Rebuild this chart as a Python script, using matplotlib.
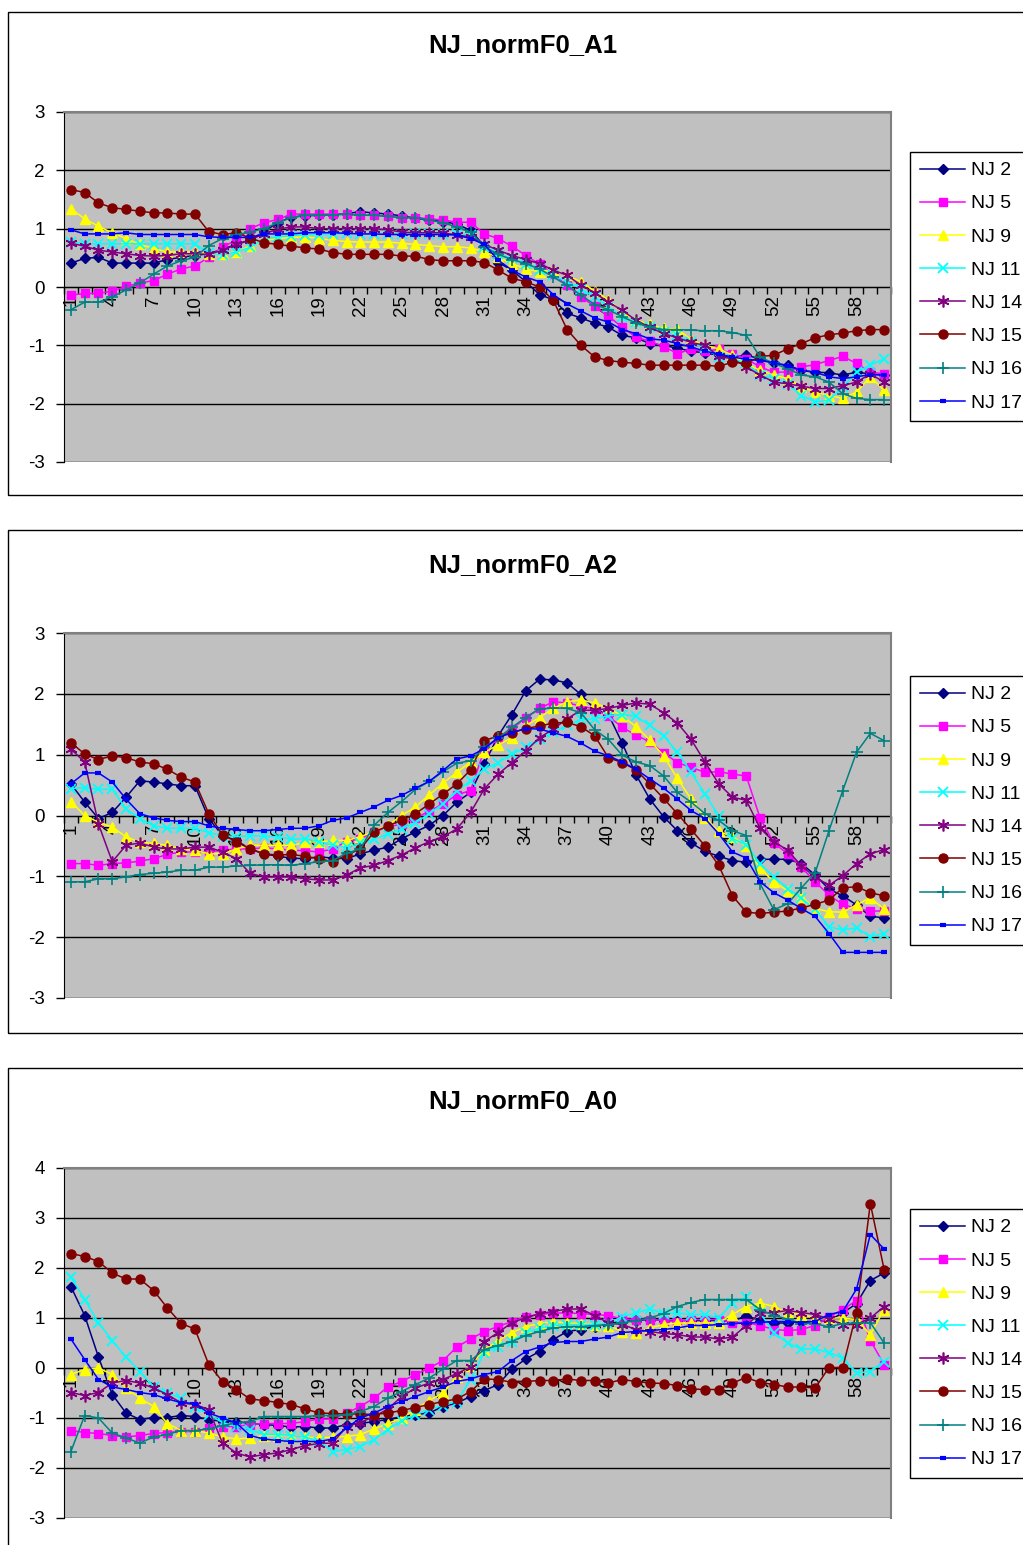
import matplotlib
matplotlib.use("Agg")
import matplotlib.pyplot as plt
from matplotlib.patches import Rectangle
from matplotlib.lines import Line2D
import numpy as np

plt.rcParams['font.family'] = ['Liberation Sans', 'DejaVu Sans']

points = list(range(1, 61))
tick_labels = [str(i) for i in range(1, 61, 3)]
series_names = ["NJ 2", "NJ 5", "NJ 9", "NJ 11", "NJ 14", "NJ 15", "NJ 16", "NJ 17"]

# ---------------- NJ_normF0_A1 ----------------
a1_nj2 = [0.41, 0.49, 0.51, 0.41, 0.41, 0.41, 0.41, 0.47, 0.51, 0.54,
          0.57, 0.65, 0.73, 0.80, 0.95, 1.10, 1.20, 1.22, 1.23, 1.24,
          1.26, 1.29, 1.27, 1.25, 1.22, 1.18, 1.15, 1.12, 1.08, 0.97,
          0.70, 0.42, 0.29, 0.09, -0.13, -0.22, -0.45, -0.53, -0.62, -0.69,
          -0.83, -0.87, -0.97, -1.00, -1.05, -1.10, -1.13, -1.17, -1.20, -1.17,
          -1.23, -1.31, -1.34, -1.43, -1.46, -1.47, -1.51, -1.46, -1.49, -1.51]
a1_nj5 = [-0.14, -0.11, -0.11, -0.07, 0.01, 0.07, 0.11, 0.22, 0.31, 0.36,
          0.51, 0.69, 0.80, 1.00, 1.10, 1.16, 1.25, 1.25, 1.25, 1.25,
          1.25, 1.23, 1.23, 1.21, 1.19, 1.19, 1.17, 1.15, 1.11, 1.11,
          0.91, 0.83, 0.70, 0.54, 0.39, 0.23, 0.03, -0.17, -0.33, -0.50,
          -0.69, -0.86, -0.93, -1.02, -1.14, -1.07, -1.10, -1.07, -1.14, -1.23,
          -1.37, -1.46, -1.46, -1.37, -1.33, -1.26, -1.19, -1.31, -1.46, -1.49]
a1_nj9 = [1.34, 1.17, 1.04, 0.93, 0.83, 0.73, 0.66, 0.60, 0.60, 0.60,
          0.56, 0.57, 0.60, 0.70, 0.80, 0.83, 0.85, 0.86, 0.83, 0.80,
          0.78, 0.77, 0.77, 0.77, 0.75, 0.73, 0.71, 0.69, 0.69, 0.67,
          0.60, 0.51, 0.40, 0.31, 0.26, 0.30, 0.20, 0.09, -0.07, -0.22,
          -0.43, -0.57, -0.64, -0.71, -0.72, -0.90, -1.00, -1.06, -1.17, -1.31,
          -1.43, -1.51, -1.57, -1.71, -1.80, -1.86, -1.91, -1.80, -1.54, -1.77]
a1_nj11 = [0.78, 0.74, 0.74, 0.74, 0.74, 0.74, 0.74, 0.74, 0.74, 0.74,
           0.58, 0.55, 0.60, 0.68, 0.82, 0.86, 0.88, 0.90, 0.90, 0.91,
           0.92, 0.91, 0.91, 0.91, 0.91, 0.91, 0.91, 0.91, 0.91, 0.90,
           0.69, 0.57, 0.49, 0.40, 0.29, 0.20, 0.09, -0.03, -0.17, -0.34,
           -0.51, -0.60, -0.69, -0.77, -0.83, -0.95, -1.05, -1.20, -1.23, -1.31,
           -1.51, -1.57, -1.66, -1.86, -1.97, -1.94, -1.71, -1.46, -1.34, -1.23]
a1_nj14 = [0.75, 0.70, 0.63, 0.60, 0.57, 0.54, 0.53, 0.54, 0.57, 0.57,
           0.56, 0.63, 0.73, 0.81, 0.91, 0.99, 1.03, 1.03, 1.00, 1.00,
           1.00, 1.00, 1.00, 0.98, 0.94, 0.93, 0.93, 0.93, 0.89, 0.86,
           0.73, 0.63, 0.54, 0.47, 0.40, 0.29, 0.20, 0.03, -0.10, -0.26,
           -0.40, -0.57, -0.69, -0.80, -0.87, -0.95, -1.00, -1.19, -1.23, -1.37,
           -1.51, -1.63, -1.66, -1.70, -1.74, -1.74, -1.69, -1.63, -1.49, -1.63]
a1_nj15 = [1.67, 1.62, 1.44, 1.36, 1.33, 1.30, 1.27, 1.27, 1.25, 1.25,
           0.95, 0.90, 0.93, 0.84, 0.76, 0.73, 0.70, 0.67, 0.65, 0.59,
           0.56, 0.56, 0.56, 0.56, 0.53, 0.53, 0.47, 0.45, 0.45, 0.45,
           0.42, 0.29, 0.15, 0.09, 0.00, -0.23, -0.73, -1.00, -1.20, -1.26,
           -1.29, -1.31, -1.34, -1.34, -1.34, -1.34, -1.34, -1.36, -1.29, -1.31,
           -1.19, -1.17, -1.06, -0.97, -0.87, -0.82, -0.79, -0.75, -0.73, -0.73]
a1_nj16 = [-0.39, -0.26, -0.26, -0.17, -0.05, 0.07, 0.22, 0.36, 0.45, 0.51,
           0.71, 0.83, 0.90, 0.94, 1.00, 1.10, 1.19, 1.23, 1.23, 1.23,
           1.25, 1.23, 1.23, 1.21, 1.19, 1.19, 1.15, 1.10, 1.03, 0.94,
           0.69, 0.56, 0.47, 0.40, 0.31, 0.17, 0.03, -0.14, -0.30, -0.39,
           -0.51, -0.62, -0.69, -0.73, -0.73, -0.74, -0.75, -0.75, -0.78, -0.83,
           -1.20, -1.31, -1.40, -1.51, -1.54, -1.63, -1.83, -1.91, -1.93, -1.93]
a1_nj17 = [0.98, 0.91, 0.91, 0.91, 0.93, 0.90, 0.90, 0.90, 0.90, 0.90,
           0.86, 0.85, 0.85, 0.85, 0.91, 0.91, 0.91, 0.93, 0.93, 0.93,
           0.92, 0.91, 0.91, 0.90, 0.90, 0.90, 0.90, 0.90, 0.89, 0.83,
           0.73, 0.46, 0.29, 0.17, 0.09, -0.13, -0.29, -0.41, -0.53, -0.60,
           -0.73, -0.80, -0.89, -0.91, -0.97, -1.03, -1.10, -1.15, -1.20, -1.24,
           -1.26, -1.30, -1.35, -1.43, -1.46, -1.54, -1.57, -1.54, -1.50, -1.51]

# ---------------- NJ_normF0_A2 ----------------
a2_nj2 = [0.52, 0.22, -0.05, 0.05, 0.30, 0.57, 0.55, 0.52, 0.49, 0.49,
          -0.05, -0.33, -0.41, -0.55, -0.63, -0.67, -0.70, -0.71, -0.68, -0.70,
          -0.71, -0.63, -0.57, -0.52, -0.38, -0.27, -0.16, 0.00, 0.22, 0.38,
          0.85, 1.31, 1.66, 2.05, 2.24, 2.23, 2.18, 1.99, 1.75, 1.66,
          1.19, 0.67, 0.27, -0.02, -0.25, -0.45, -0.59, -0.67, -0.74, -0.77,
          -0.72, -0.72, -0.72, -0.79, -0.98, -1.21, -1.32, -1.47, -1.66, -1.68]
a2_nj5 = [-0.79, -0.79, -0.82, -0.79, -0.78, -0.75, -0.71, -0.64, -0.60, -0.60,
          -0.60, -0.57, -0.55, -0.55, -0.53, -0.55, -0.57, -0.58, -0.60, -0.55,
          -0.43, -0.38, -0.27, -0.19, -0.14, -0.04, 0.07, 0.19, 0.34, 0.41,
          1.09, 1.28, 1.42, 1.61, 1.76, 1.87, 1.85, 1.80, 1.75, 1.63,
          1.45, 1.32, 1.21, 1.03, 0.87, 0.79, 0.71, 0.72, 0.68, 0.65,
          -0.04, -0.45, -0.63, -0.85, -1.09, -1.31, -1.46, -1.53, -1.57, -1.57]
a2_nj9 = [0.23, 0.00, -0.11, -0.19, -0.35, -0.44, -0.46, -0.49, -0.55, -0.57,
          -0.63, -0.63, -0.55, -0.49, -0.49, -0.49, -0.49, -0.44, -0.43, -0.41,
          -0.41, -0.35, -0.26, -0.16, 0.00, 0.14, 0.34, 0.53, 0.71, 0.88,
          1.04, 1.16, 1.28, 1.48, 1.61, 1.76, 1.87, 1.90, 1.85, 1.76,
          1.64, 1.46, 1.24, 0.98, 0.61, 0.27, -0.04, -0.26, -0.35, -0.50,
          -0.87, -1.09, -1.24, -1.34, -1.53, -1.58, -1.59, -1.47, -1.35, -1.54]
a2_nj11 = [0.44, 0.46, 0.43, 0.43, 0.11, -0.05, -0.17, -0.21, -0.21, -0.21,
           -0.28, -0.33, -0.35, -0.33, -0.34, -0.35, -0.39, -0.38, -0.43, -0.49,
           -0.52, -0.46, -0.39, -0.30, -0.22, -0.12, 0.03, 0.19, 0.41, 0.57,
           0.76, 0.87, 1.01, 1.12, 1.25, 1.37, 1.48, 1.58, 1.59, 1.64,
           1.66, 1.63, 1.48, 1.31, 1.04, 0.71, 0.35, 0.00, -0.38, -0.48,
           -0.79, -1.01, -1.20, -1.36, -1.54, -1.83, -1.88, -1.85, -1.99, -1.94]
a2_nj14 = [1.09, 0.88, -0.14, -0.76, -0.49, -0.45, -0.52, -0.55, -0.55, -0.52,
           -0.52, -0.60, -0.71, -0.95, -1.01, -1.01, -1.01, -1.04, -1.06, -1.06,
           -0.98, -0.86, -0.82, -0.74, -0.65, -0.53, -0.43, -0.35, -0.22, 0.05,
           0.44, 0.68, 0.87, 1.06, 1.28, 1.42, 1.59, 1.73, 1.73, 1.76,
           1.81, 1.85, 1.83, 1.69, 1.52, 1.25, 0.88, 0.52, 0.30, 0.25,
           -0.21, -0.43, -0.57, -0.83, -1.01, -1.15, -0.99, -0.79, -0.63, -0.56]
a2_nj15 = [1.20, 1.01, 0.92, 0.98, 0.95, 0.88, 0.85, 0.76, 0.63, 0.55,
           0.03, -0.32, -0.43, -0.55, -0.63, -0.65, -0.64, -0.67, -0.71, -0.76,
           -0.65, -0.55, -0.27, -0.17, -0.08, 0.03, 0.19, 0.35, 0.52, 0.75,
           1.23, 1.31, 1.36, 1.43, 1.47, 1.52, 1.53, 1.46, 1.31, 0.95,
           0.87, 0.75, 0.52, 0.28, 0.03, -0.23, -0.50, -0.82, -1.32, -1.59,
           -1.61, -1.59, -1.57, -1.52, -1.46, -1.39, -1.19, -1.17, -1.27, -1.32]
a2_nj16 = [-1.09, -1.09, -1.04, -1.04, -1.01, -0.97, -0.95, -0.93, -0.90, -0.90,
           -0.85, -0.85, -0.83, -0.82, -0.81, -0.81, -0.82, -0.79, -0.76, -0.74,
           -0.62, -0.55, -0.16, 0.05, 0.23, 0.43, 0.56, 0.72, 0.86, 0.90,
           1.12, 1.27, 1.45, 1.61, 1.75, 1.77, 1.76, 1.69, 1.41, 1.25,
           0.99, 0.88, 0.82, 0.65, 0.38, 0.22, 0.03, -0.08, -0.25, -0.33,
           -1.12, -1.55, -1.45, -1.19, -0.94, -0.25, 0.41, 1.04, 1.35, 1.23]
a2_nj17 = [0.52, 0.70, 0.70, 0.55, 0.27, 0.03, -0.04, -0.08, -0.10, -0.10,
           -0.17, -0.21, -0.23, -0.25, -0.25, -0.23, -0.21, -0.21, -0.17, -0.08,
           -0.04, 0.05, 0.14, 0.25, 0.33, 0.45, 0.56, 0.74, 0.93, 0.98,
           1.10, 1.28, 1.36, 1.43, 1.42, 1.36, 1.30, 1.19, 1.06, 0.98,
           0.88, 0.76, 0.60, 0.45, 0.27, 0.08, -0.05, -0.30, -0.60, -0.70,
           -1.09, -1.27, -1.39, -1.53, -1.66, -1.94, -2.25, -2.25, -2.25, -2.25]

# ---------------- NJ_normF0_A0 ----------------
a0_nj2 = [1.63, 1.05, 0.22, -0.53, -0.90, -1.03, -0.99, -0.99, -0.95, -0.97,
          -1.03, -1.07, -1.07, -1.11, -1.13, -1.15, -1.18, -1.17, -1.20, -1.20,
          -1.13, -1.11, -1.07, -1.03, -0.97, -0.93, -0.90, -0.77, -0.70, -0.57,
          -0.45, -0.33, -0.02, 0.18, 0.33, 0.57, 0.73, 0.77, 0.83, 0.89,
          0.93, 0.95, 0.97, 0.95, 0.95, 0.95, 0.95, 0.95, 0.93, 1.05,
          0.95, 0.90, 0.90, 0.93, 0.93, 0.95, 1.10, 1.29, 1.75, 1.90]
a0_nj5 = [-1.25, -1.29, -1.31, -1.35, -1.38, -1.35, -1.31, -1.29, -1.27, -1.27,
          -1.20, -1.17, -1.17, -1.13, -1.11, -1.11, -1.11, -1.07, -1.02, -1.02,
          -0.90, -0.77, -0.60, -0.38, -0.27, -0.13, 0.00, 0.15, 0.42, 0.58,
          0.73, 0.83, 0.93, 1.03, 1.07, 1.10, 1.10, 1.09, 1.07, 1.05,
          0.98, 0.97, 0.97, 0.95, 0.93, 0.97, 0.97, 0.97, 0.91, 0.91,
          0.85, 0.77, 0.75, 0.77, 0.85, 1.02, 1.17, 1.35, 0.55, 0.07]
a0_nj9 = [-0.13, -0.03, 0.00, -0.13, -0.40, -0.60, -0.77, -1.11, -1.25, -1.25,
          -1.30, -1.38, -1.42, -1.40, -1.35, -1.35, -1.35, -1.38, -1.40, -1.38,
          -1.37, -1.33, -1.22, -1.11, -1.00, -0.83, -0.65, -0.50, -0.17, 0.05,
          0.37, 0.55, 0.71, 0.83, 0.89, 0.93, 0.90, 0.89, 0.87, 0.85,
          0.73, 0.71, 0.80, 0.87, 0.90, 0.90, 0.90, 0.91, 1.07, 1.23,
          1.30, 1.23, 1.10, 1.07, 1.00, 1.00, 1.00, 0.97, 0.67, 1.17]
a0_nj11 = [1.82, 1.37, 0.90, 0.55, 0.22, -0.07, -0.38, -0.50, -0.60, -0.77,
           -0.93, -1.09, -1.17, -1.23, -1.33, -1.33, -1.35, -1.38, -1.47, -1.67,
           -1.63, -1.57, -1.43, -1.23, -1.05, -0.93, -0.83, -0.75, -0.67, -0.23,
           0.31, 0.43, 0.53, 0.70, 0.80, 0.85, 0.87, 0.87, 0.87, 0.89,
           1.03, 1.10, 1.18, 1.09, 1.10, 1.07, 1.07, 1.00, 1.30, 1.42,
           1.10, 0.71, 0.50, 0.38, 0.38, 0.31, 0.20, -0.10, -0.07, 0.13]
a0_nj14 = [-0.49, -0.55, -0.49, -0.30, -0.25, -0.30, -0.40, -0.53, -0.70, -0.73,
           -0.83, -1.50, -1.70, -1.78, -1.73, -1.70, -1.63, -1.55, -1.51, -1.50,
           -1.17, -1.09, -0.97, -0.82, -0.57, -0.40, -0.30, -0.23, -0.11, 0.02,
           0.53, 0.71, 0.91, 1.00, 1.09, 1.13, 1.18, 1.18, 1.05, 0.90,
           0.87, 0.77, 0.73, 0.69, 0.67, 0.62, 0.62, 0.58, 0.62, 0.85,
           1.10, 1.11, 1.15, 1.11, 1.07, 0.98, 0.87, 0.87, 1.00, 1.23]
a0_nj15 = [2.29, 2.23, 2.13, 1.90, 1.78, 1.78, 1.55, 1.20, 0.89, 0.78,
           0.07, -0.27, -0.43, -0.62, -0.65, -0.69, -0.73, -0.82, -0.90, -0.91,
           -0.92, -0.92, -0.93, -0.90, -0.85, -0.79, -0.73, -0.67, -0.62, -0.47,
           -0.22, -0.23, -0.29, -0.27, -0.25, -0.25, -0.22, -0.25, -0.25, -0.30,
           -0.23, -0.27, -0.30, -0.31, -0.35, -0.42, -0.43, -0.43, -0.30, -0.19,
           -0.29, -0.33, -0.38, -0.38, -0.40, 0.01, 0.01, 1.11, 3.29, 1.97]
a0_nj16 = [-1.67, -0.95, -1.00, -1.30, -1.40, -1.50, -1.38, -1.33, -1.25, -1.25,
           -1.22, -1.15, -1.10, -1.07, -0.97, -0.97, -0.97, -0.97, -0.95, -0.95,
           -0.93, -0.87, -0.77, -0.60, -0.47, -0.33, -0.20, -0.02, 0.15, 0.15,
           0.37, 0.45, 0.53, 0.65, 0.73, 0.80, 0.83, 0.83, 0.85, 0.87,
           0.90, 0.95, 1.00, 1.09, 1.23, 1.31, 1.37, 1.37, 1.37, 1.37,
           1.17, 1.05, 0.98, 0.89, 0.89, 0.82, 0.89, 0.90, 0.91, 0.50]
a0_nj17 = [0.58, 0.17, -0.23, -0.38, -0.43, -0.49, -0.53, -0.62, -0.69, -0.71,
           -0.90, -1.00, -1.10, -1.35, -1.42, -1.45, -1.47, -1.47, -1.47, -1.42,
           -1.20, -1.00, -0.90, -0.77, -0.67, -0.57, -0.47, -0.38, -0.27, -0.22,
           -0.13, -0.07, 0.15, 0.33, 0.42, 0.51, 0.53, 0.53, 0.58, 0.62,
           0.71, 0.73, 0.75, 0.77, 0.80, 0.85, 0.85, 0.87, 0.89, 0.90,
           0.91, 0.93, 0.93, 0.91, 0.93, 1.07, 1.13, 1.58, 2.67, 2.38]

panels = [
    ("NJ_normF0_A1", [a1_nj2, a1_nj5, a1_nj9, a1_nj11, a1_nj14, a1_nj15, a1_nj16, a1_nj17], (-3, 3)),
    ("NJ_normF0_A2", [a2_nj2, a2_nj5, a2_nj9, a2_nj11, a2_nj14, a2_nj15, a2_nj16, a2_nj17], (-3, 3)),
    ("NJ_normF0_A0", [a0_nj2, a0_nj5, a0_nj9, a0_nj11, a0_nj14, a0_nj15, a0_nj16, a0_nj17], (-3, 4)),
]

# Series styling (Excel default palette)
styles = [
    dict(color="#000080", marker="D", ms=5.5, mew=1),
    dict(color="#FF00FF", marker="s", ms=6, mew=1),
    dict(color="#FFFF00", marker="^", ms=7.5, mew=1),
    dict(color="#00FFFF", marker="x", ms=6.5, mew=1.3),
    dict(color="#800080", marker=(6, 2, 0), ms=8.5, mew=1.2),
    dict(color="#800000", marker="o", ms=6.5, mew=1),
    dict(color="#008080", marker="+", ms=8.5, mew=1.2),
    dict(color="#0000FF", marker="_", ms=5, mew=3),
]

W, H = 1023, 1545
fig = plt.figure(figsize=(W / 100, H / 100), dpi=100)
fig.patch.set_facecolor("white")

# layout in pixels: (frame top, frame bottom, title y, plot top, plot bottom, legend top)
layout = [
    (12, 495, 45, 112, 462, 152),
    (530, 1033, 565, 633, 998, 676),
    (1068, 1560, 1101, 1168, 1518, 1209),
]
plot_left, plot_right = 64, 891


def fx(px):
    return px / W


def fy(py):
    return 1 - py / H


for (title, data, ylim), (ftop, fbot, ty, ptop, pbot, ltop) in zip(panels, layout):
    # chart frame
    fig.patches.append(Rectangle((fx(8), fy(fbot)), fx(1040 - 8), fy(ftop) - fy(fbot),
                                 transform=fig.transFigure, fill=False,
                                 edgecolor="black", linewidth=1.0))
    fig.text(fx(523), fy(ty), title, ha="center", va="center",
             fontsize=18.5, fontweight="bold")

    ax = fig.add_axes([fx(plot_left), fy(pbot), fx(plot_right - plot_left),
                       fy(ptop) - fy(pbot)])
    ax.set_facecolor("#C0C0C0")
    ax.set_xlim(0.5, 60.5)
    ax.set_ylim(*ylim)

    yt = list(range(ylim[0], ylim[1] + 1))
    ax.set_yticks(yt)
    ax.set_yticklabels([str(v) for v in yt], fontsize=13.5)
    for v in yt:
        ax.axhline(v, color="black", linewidth=1.0, zorder=1)

    for spine in ("top", "right"):
        ax.spines[spine].set_color("#808080")
        ax.spines[spine].set_linewidth(1.5)
    ax.spines["left"].set_color("black")
    ax.spines["bottom"].set_position(("data", 0))
    ax.spines["bottom"].set_color("black")
    ax.spines["bottom"].set_zorder(1)
    ax.tick_params(axis="y", length=6, width=1, pad=8)

    ax.set_xticks(list(range(1, 61, 3)))
    ax.set_xticklabels(tick_labels, rotation=90, fontsize=13.5, va="top")
    ax.set_xticks(np.arange(0.5, 61, 1.0), minor=True)
    ax.tick_params(axis="x", which="major", length=0, pad=6)
    ax.tick_params(axis="x", which="minor", length=5, width=1, direction="out")
    for lbl in ax.get_xticklabels():
        lbl.set_zorder(2)

    for name, vals, st in zip(series_names, data, styles):
        ax.plot(points, vals, color=st["color"], linewidth=1.1,
                marker=st["marker"], markersize=st["ms"],
                markerfacecolor=st["color"], markeredgecolor=st["color"],
                markeredgewidth=st["mew"], label=name, zorder=3)

    handles = [Line2D([], [], color=st["color"], linewidth=1.1, marker=st["marker"],
                      markersize=st["ms"], markerfacecolor=st["color"],
                      markeredgecolor=st["color"], markeredgewidth=st["mew"])
               for st in styles]
    fig.legend(handles, series_names, loc="upper left",
               bbox_to_anchor=(fx(910), fy(ltop)), bbox_transform=fig.transFigure,
               fontsize=14, frameon=True, fancybox=False, edgecolor="black",
               framealpha=1, borderpad=0.5, labelspacing=0.8,
               handlelength=2.35, handletextpad=0.3, borderaxespad=0)

fig.savefig("out.png", dpi=100, facecolor="white")
